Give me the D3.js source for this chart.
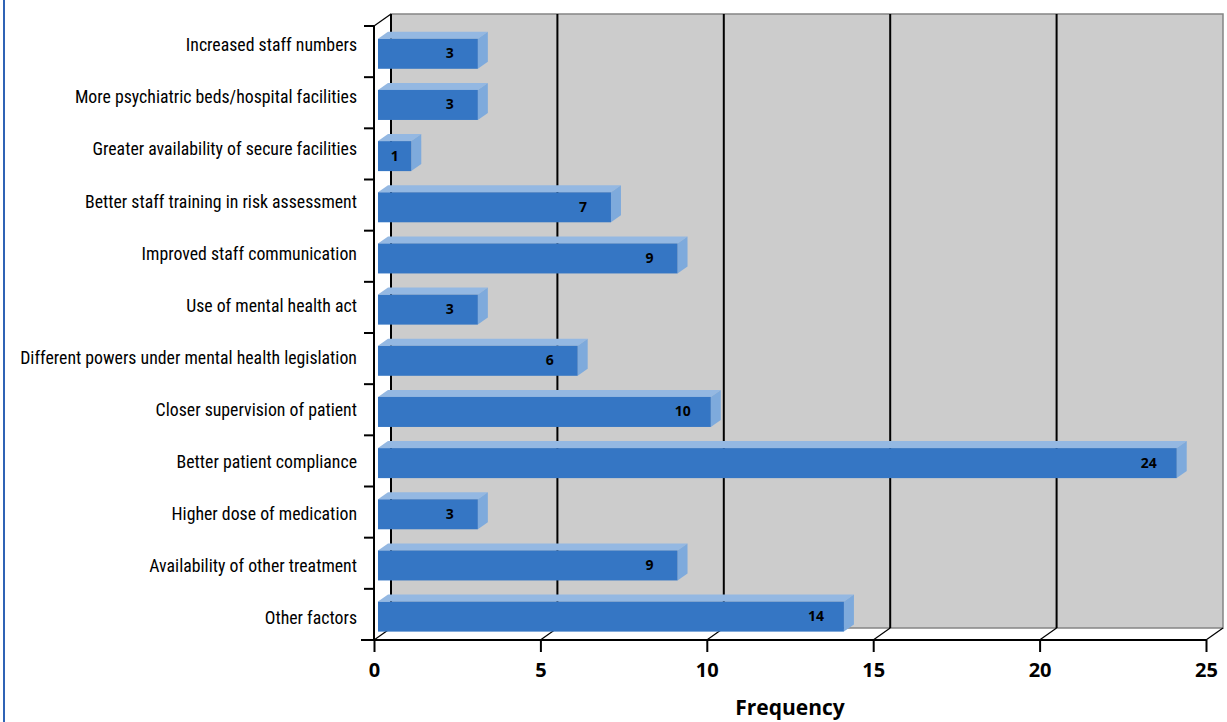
<!DOCTYPE html>
<html>
<head>
<meta charset="utf-8">
<script src="https://cdn.jsdelivr.net/npm/d3@7"></script>
<style>
  html, body { margin: 0; padding: 0; background: #ffffff; }
  svg { display: block; }
</style>
</head>
<body>
<svg id="chart" width="1227" height="722"></svg>
<script>
// Measures that would have helped, with the number of respondents naming each
const categories = [
  "Increased staff numbers",
  "More psychiatric beds/hospital facilities",
  "Greater availability of secure facilities",
  "Better staff training in risk assessment",
  "Improved staff communication",
  "Use of mental health act",
  "Different powers under mental health legislation",
  "Closer supervision of patient",
  "Better patient compliance",
  "Higher dose of medication",
  "Availability of other treatment",
  "Other factors"
];
const frequencies = [3, 3, 1, 7, 9, 3, 6, 10, 24, 3, 9, 14];
const xTicks = [0, 5, 10, 15, 20, 25];
const xTitle = "Frequency";

const svg = d3.select("#chart");

// Front plane of the plot box and the depth offset of the back wall
const plotLeft = 374, plotRight = 1206, plotTop = 26, plotBottom = 640;
const depthX = 17, depthY = -12;
// Depth offset of each bar's box
const barDX = 10, barDY = -7;

const x = d3.scaleLinear().domain([0, 25]).range([plotLeft, plotRight]);
const y = d3.scaleBand().domain(categories).range([plotTop, plotBottom]).paddingInner(0).paddingOuter(0);
const yLabel = d3.scaleBand().domain(categories).range([19, 644]);

// Blue rule down the left edge of the figure
svg.append("line")
  .attr("x1", 4).attr("x2", 4).attr("y1", 0).attr("y2", 722)
  .attr("stroke", "#2f63b5").attr("stroke-width", 2);

// Back wall
svg.append("rect")
  .attr("x", plotLeft + depthX).attr("y", plotTop + depthY)
  .attr("width", plotRight - plotLeft).attr("height", plotBottom - plotTop)
  .attr("fill", "#cccccc").attr("stroke", "#858585").attr("stroke-width", 1.5);

// Gridlines on the wall
svg.append("g").selectAll("line")
  .data(xTicks.slice(1, -1))
  .join("line")
  .attr("x1", d => x(d) + depthX).attr("x2", d => x(d) + depthX)
  .attr("y1", plotTop + depthY).attr("y2", plotBottom + depthY)
  .attr("stroke", "#000").attr("stroke-width", 2);

// Wall's left edge
svg.append("line")
  .attr("x1", plotLeft + depthX).attr("x2", plotLeft + depthX)
  .attr("y1", plotTop + depthY).attr("y2", plotBottom + depthY)
  .attr("stroke", "#000").attr("stroke-width", 2);

// Floor diagonals from each tick back to the wall
svg.append("g").selectAll("line")
  .data(xTicks)
  .join("line")
  .attr("x1", d => x(d)).attr("y1", plotBottom)
  .attr("x2", d => x(d) + depthX).attr("y2", plotBottom + depthY)
  .attr("stroke", "#000").attr("stroke-width", 1.2);

// Top-left diagonal of the side wall
svg.append("line")
  .attr("x1", plotLeft).attr("y1", plotTop)
  .attr("x2", plotLeft + depthX).attr("y2", plotTop + depthY)
  .attr("stroke", "#000").attr("stroke-width", 1.2);

// Bars drawn as boxes: front, top and end faces
const bars = svg.append("g").selectAll("g")
  .data(categories.map((c, i) => ({ c, v: frequencies[i] })))
  .join("g");

const barH = 30;
const yc = d => y(d.c) + y.bandwidth() / 2 + 2.2;
const x0 = x(0) + 4;
const x1 = d => x(d.v) + 4;

bars.append("path")
  .attr("fill", "#94b8e2")
  .attr("d", d => {
    const t = yc(d) - barH / 2;
    return `M${x0},${t}L${x0 + barDX},${t + barDY}L${x1(d) + barDX},${t + barDY}L${x1(d)},${t}Z`;
  });

bars.append("path")
  .attr("fill", "#7eaadc")
  .attr("d", d => {
    const t = yc(d) - barH / 2, b = yc(d) + barH / 2;
    return `M${x1(d)},${t}L${x1(d) + barDX},${t + barDY}L${x1(d) + barDX},${b + barDY}L${x1(d)},${b}Z`;
  });

bars.append("rect")
  .attr("fill", "#3576c4")
  .attr("x", x0)
  .attr("y", d => yc(d) - barH / 2)
  .attr("width", d => x1(d) - x0)
  .attr("height", barH);

// Value labels sit inside the bar end; short bars get them centred
bars.append("text")
  .attr("x", d => Math.max(x1(d) - 28, (x0 + x1(d)) / 2))
  .attr("y", d => yc(d) + 4.5)
  .attr("text-anchor", "middle")
  .attr("font-family", "'Open Sans', sans-serif")
  .attr("font-weight", 700)
  .attr("font-size", 14)
  .attr("fill", "#000")
  .text(d => d.v);

// Value axis along the floor front edge
const xAxis = svg.append("g").attr("transform", `translate(0,${plotBottom})`)
  .call(d3.axisBottom(x).tickValues(xTicks).tickSize(12).tickPadding(11).tickSizeOuter(0));
xAxis.select(".domain").remove();
xAxis.selectAll(".tick line").attr("stroke", "#000").attr("stroke-width", 2);
xAxis.selectAll(".tick text")
  .attr("font-family", "'Open Sans', sans-serif")
  .attr("font-weight", 700)
  .attr("font-size", 20)
  .attr("fill", "#000");

svg.append("line")
  .attr("x1", 361).attr("x2", plotRight).attr("y1", plotBottom).attr("y2", plotBottom)
  .attr("stroke", "#000").attr("stroke-width", 2);

// Category axis on the left
const yAxisG = svg.append("g").attr("transform", `translate(${plotLeft},0)`);
yAxisG.append("line")
  .attr("x1", 0).attr("x2", 0).attr("y1", plotTop).attr("y2", plotBottom)
  .attr("stroke", "#000").attr("stroke-width", 2);
yAxisG.selectAll("line.tick")
  .data(categories.map(c => y(c)).concat([plotBottom]))
  .join("line").attr("class", "tick")
  .attr("x1", -10).attr("x2", 0)
  .attr("y1", d => d).attr("y2", d => d)
  .attr("stroke", "#000").attr("stroke-width", 2);

svg.append("g").selectAll("text")
  .data(categories)
  .join("text")
  .attr("x", 357)
  .attr("y", d => yLabel(d) + yLabel.bandwidth() / 2)
  .attr("dy", "0.35em")
  .attr("text-anchor", "end")
  .attr("font-family", "'Roboto Condensed', 'Liberation Sans Narrow', 'DejaVu Sans Condensed', sans-serif")
  .attr("font-size", 17.8)
  .attr("fill", "#000")
  .text(d => d);

// Axis title
svg.append("text")
  .attr("x", (plotLeft + plotRight) / 2)
  .attr("y", 715)
  .attr("text-anchor", "middle")
  .attr("font-family", "'Open Sans', sans-serif")
  .attr("font-weight", 700)
  .attr("font-size", 21)
  .attr("fill", "#000")
  .text(xTitle);
</script>
</body>
</html>
